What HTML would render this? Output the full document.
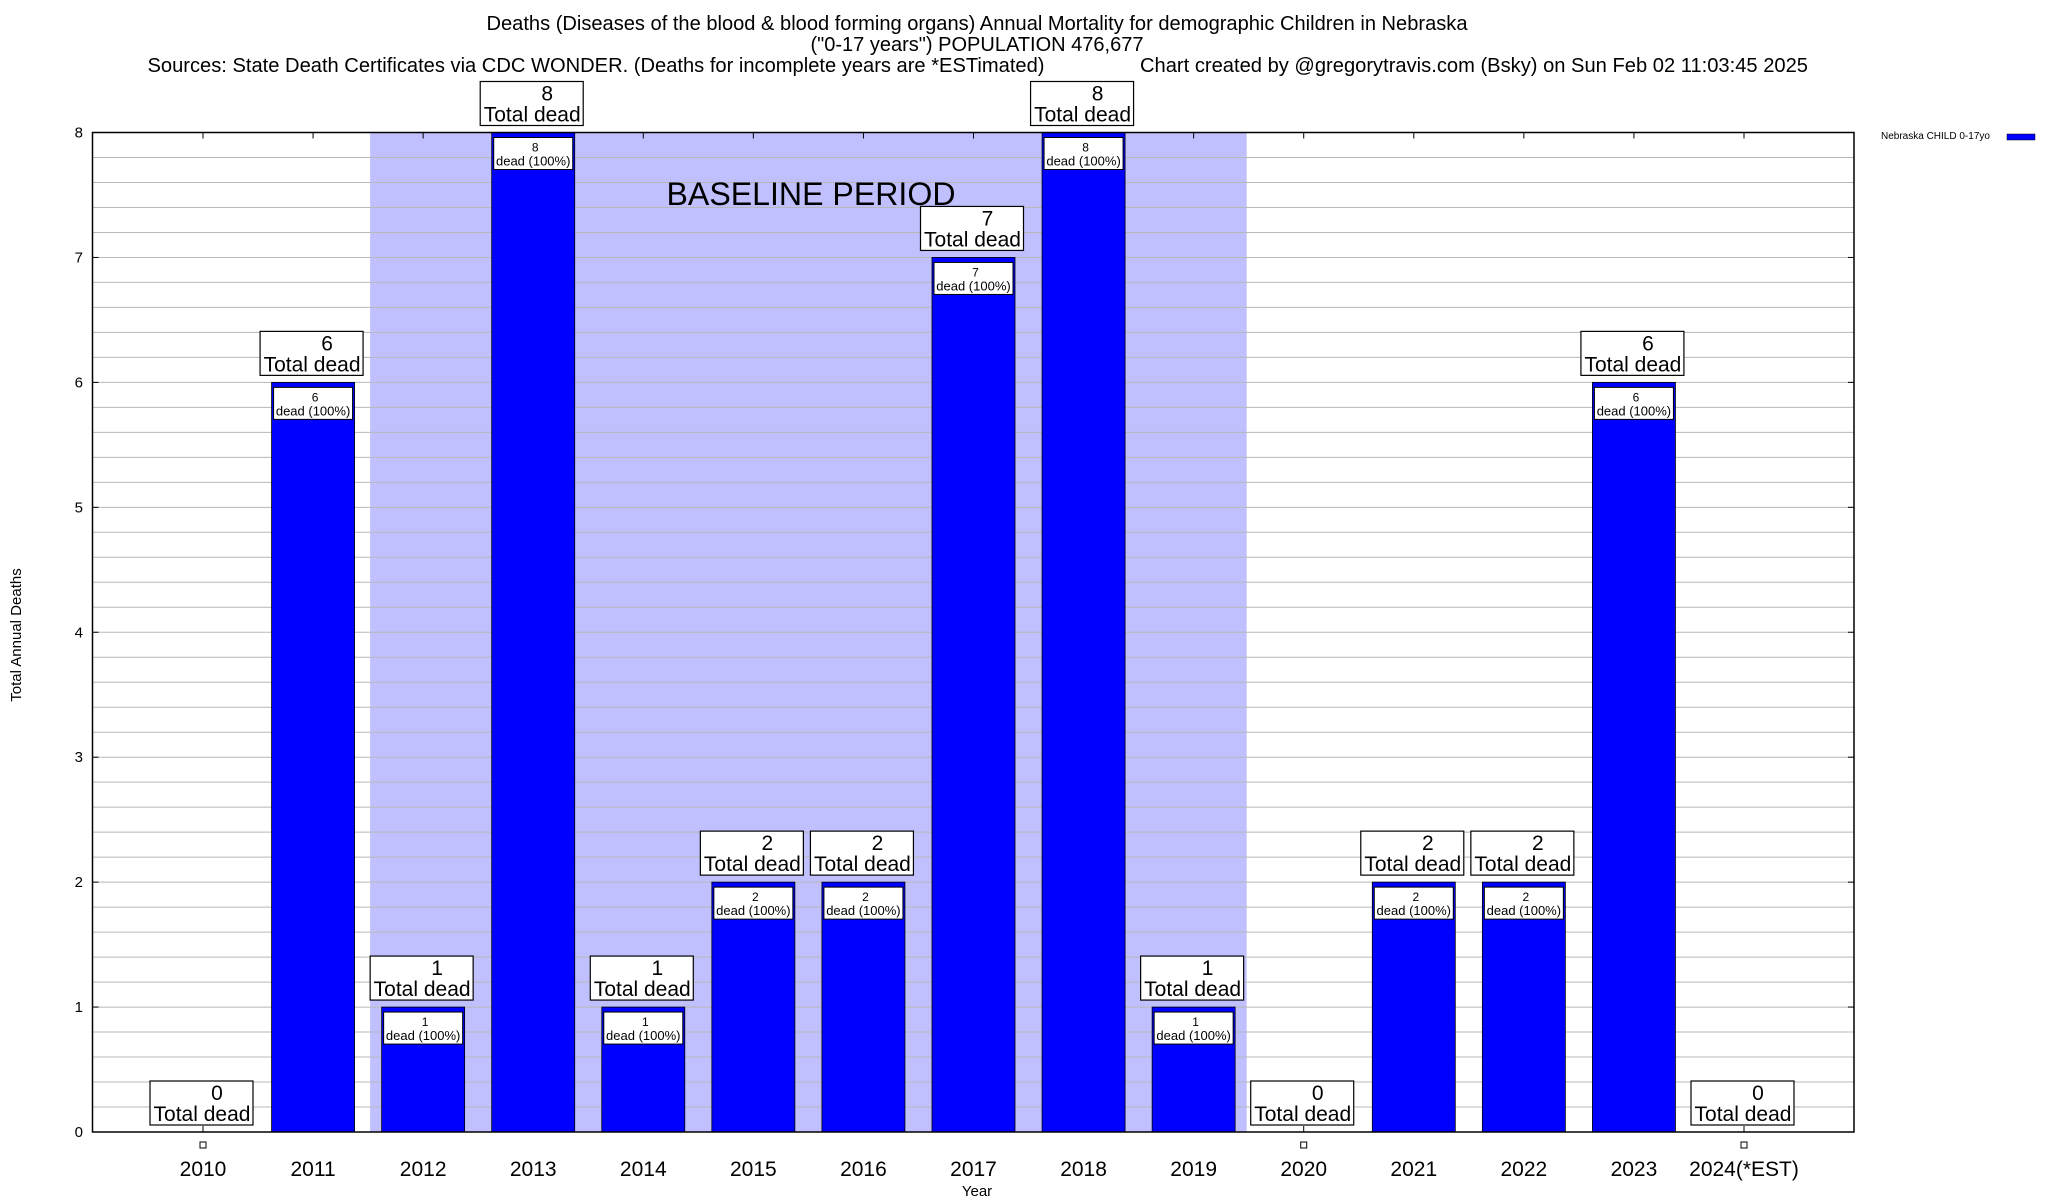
<!DOCTYPE html>
<html><head><meta charset="utf-8"><style>
html,body{margin:0;padding:0;background:#fff;}
svg{display:block;font-family:"Liberation Sans",sans-serif;}
</style></head><body>
<svg id="chart" width="2048" height="1200" viewBox="0 0 2048 1200" xmlns="http://www.w3.org/2000/svg">
<g font-size="20" text-anchor="middle">
<text x="977" y="30" textLength="981" lengthAdjust="spacingAndGlyphs">Deaths (Diseases of the blood &amp; blood forming organs) Annual Mortality for demographic Children in Nebraska</text>
<text x="977" y="51" textLength="333" lengthAdjust="spacingAndGlyphs">("0-17 years") POPULATION 476,677</text>
<text x="596" y="72" textLength="897" lengthAdjust="spacingAndGlyphs">Sources: State Death Certificates via CDC WONDER. (Deaths for incomplete years are *ESTimated)</text>
<text x="1474" y="72" textLength="668" lengthAdjust="spacingAndGlyphs">Chart created by @gregorytravis.com (Bsky) on Sun Feb 02 11:03:45 2025</text>
</g>
<g id="plot"></g>
<text transform="translate(21,635) rotate(-90)" font-size="15" text-anchor="middle">Total Annual Deaths</text>
<text x="977" y="1196" font-size="15" text-anchor="middle">Year</text>
<g>
<text x="1881" y="139" font-size="10">Nebraska CHILD 0-17yo</text>
<rect x="2007" y="134" width="28" height="6" fill="#0000ff" stroke="#000" stroke-width="0.5"/>
</g>
</svg>
<script>
const categories = ["2010","2011","2012","2013","2014","2015","2016","2017","2018","2019","2020","2021","2022","2023","2024(*EST)"];
const deaths = [0,6,1,8,1,2,2,7,8,1,0,2,2,6,0];
const yTicks = [0,1,2,3,4,5,6,7,8];
const baselineRange = [2012, 2019];

const NS = "http://www.w3.org/2000/svg";
const L = 92.5, R = 1854, T = 132.5, B = 1132;
const yMax = 8;
const step = (1744 - 203) / 14;
const x = i => 203 + i * step;
const y = v => B - v / yMax * (B - T);
const bw = 83;
const g = document.getElementById('plot');
function mk(tag, attrs, parent) {
  const e = document.createElementNS(NS, tag);
  for (const k in attrs) e.setAttribute(k, attrs[k]);
  (parent || g).appendChild(e);
  return e;
}
const bi0 = categories.indexOf(String(baselineRange[0])), bi1 = categories.indexOf(String(baselineRange[1]));
const shade = mk('rect', {x: x(bi0) - step/2 + 2, y: T, width: x(bi1) - x(bi0) + step - 4, height: B - T, fill: '#c0c0ff'});


for (let v = 0.2; v < yMax - 0.01; v += 0.2) {
  const gl = mk('line', {x1: L, x2: R, y1: y(v), y2: y(v), stroke: '#b8b8b8', 'stroke-width': 1});
  
  
}
const bt = mk('text', {x: 811, y: 205, 'font-size': 32, 'text-anchor': 'middle', textLength: 289, lengthAdjust: 'spacingAndGlyphs'});
bt.textContent = 'BASELINE PERIOD';


yTicks.forEach(v => {
  const t = mk('text', {x: 83, y: y(v) + 5, 'font-size': 15, 'text-anchor': 'end'});
  t.textContent = v;
  
  
  mk('line', {x1: L, x2: L + 6, y1: y(v), y2: y(v), stroke: '#000'});
  mk('line', {x1: R, x2: R - 6, y1: y(v), y2: y(v), stroke: '#000'});
});
categories.forEach((c, i) => {
  const v = deaths[i], cx = x(i);
  mk('line', {x1: cx, x2: cx, y1: B, y2: B - 6, stroke: '#000'});
  mk('line', {x1: cx, x2: cx, y1: T, y2: T + 6, stroke: '#000'});
  const lab = mk('text', {x: cx, y: 1176, 'font-size': 21, 'text-anchor': 'middle'});
  lab.textContent = c;
  
  
  if (v > 0) {
    const bar = mk('rect', {x: cx - bw/2, y: y(v), width: bw, height: B - y(v), fill: '#0000ff', stroke: '#000', 'stroke-width': 0.8});
    
    
    const ib = mk('rect', {x: cx - bw/2 + 2, y: y(v) + 5, width: bw - 4, height: 32, fill: '#fff', stroke: '#000', 'stroke-width': 1});
    
    
    const t1 = mk('text', {x: cx + 2, y: y(v) + 19, 'font-size': 12, 'text-anchor': 'middle'});
    t1.textContent = v;
    const t2 = mk('text', {x: cx, y: y(v) + 33, 'font-size': 13, 'text-anchor': 'middle'});
    t2.textContent = 'dead (100%)';
  } else {
    const sq = mk('rect', {x: cx - 3, y: 1142, width: 6, height: 6, fill: '#fff', stroke: '#000', 'stroke-width': 1});
    
    
  }
  const top = v > 0 ? y(v) - 7 : B - 7;
  const bx = cx - 53;
  const ab = mk('rect', {x: bx, y: top - 44, width: 103, height: 44, fill: '#fff', stroke: '#000', 'stroke-width': 1.2});
  
  
  const a1 = mk('text', {x: cx + 14, y: top - 25, 'font-size': 21, 'text-anchor': 'middle'});
  a1.textContent = v;
  const a2 = mk('text', {x: cx - 1, y: top - 4, 'font-size': 21, 'text-anchor': 'middle'});
  a2.textContent = 'Total dead';
});
const fr = mk('rect', {x: L, y: T, width: R - L, height: B - T, fill: 'none', stroke: '#000', 'stroke-width': 1.5});


</script>
</body></html>
